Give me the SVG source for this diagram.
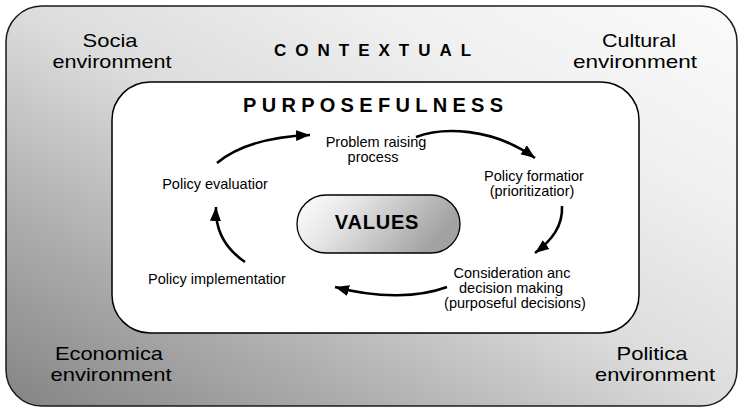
<svg xmlns="http://www.w3.org/2000/svg" width="739" height="409" viewBox="0 0 739 409">
<defs>
<linearGradient id="bg" x1="0" y1="1" x2="1" y2="0">
<stop offset="0" stop-color="#848484"/>
<stop offset="0.25" stop-color="#aeaeae"/>
<stop offset="0.5" stop-color="#dcdcdc"/>
<stop offset="0.75" stop-color="#f0f0f0"/>
<stop offset="1" stop-color="#fbfbfb"/>
</linearGradient>
<linearGradient id="pill" x1="0" y1="0" x2="1" y2="0.3">
<stop offset="0" stop-color="#ffffff"/>
<stop offset="0.35" stop-color="#e6e6e6"/>
<stop offset="1" stop-color="#a2a2a2"/>
</linearGradient>
<marker id="ah" markerUnits="userSpaceOnUse" markerWidth="15" markerHeight="12" refX="14" refY="6" orient="auto">
<path d="M0,0.5 L14,6 L0,11.5 z" fill="#000"/>
</marker>
<style>
.lbl{font-family:"Liberation Sans",Arial,sans-serif;font-size:19px;fill:#000;text-anchor:middle}
.in{font-family:"Liberation Sans",Arial,sans-serif;font-size:14.5px;fill:#000;text-anchor:middle}
.hd{font-family:"Liberation Sans",Arial,sans-serif;font-weight:bold;fill:#000}
.arr{fill:none;stroke:#000;stroke-width:2.6;marker-end:url(#ah)}
</style>
</defs>
<g id="contextual">
<rect x="6" y="6" width="731" height="400" rx="36" ry="36" fill="url(#bg)" stroke="#1a1a1a" stroke-width="1.5"/>
<text class="hd" x="274" y="56" font-size="17" letter-spacing="9">CONTEXTUAL</text>
<text class="lbl" x="110" y="47" textLength="55" lengthAdjust="spacingAndGlyphs">Socia</text>
<text class="lbl" x="112" y="68" textLength="119" lengthAdjust="spacingAndGlyphs">environment</text>
<text class="lbl" x="639" y="47" textLength="74" lengthAdjust="spacingAndGlyphs">Cultural</text>
<text class="lbl" x="635" y="68" textLength="124" lengthAdjust="spacingAndGlyphs">environment</text>
<text class="lbl" x="109" y="360" textLength="108" lengthAdjust="spacingAndGlyphs">Economica</text>
<text class="lbl" x="111" y="381" textLength="121" lengthAdjust="spacingAndGlyphs">environment</text>
<text class="lbl" x="652" y="360" textLength="71" lengthAdjust="spacingAndGlyphs">Politica</text>
<text class="lbl" x="655" y="381" textLength="120" lengthAdjust="spacingAndGlyphs">environment</text>
</g>
<g id="purposefulness">
<rect x="112" y="82" width="527" height="251" rx="38" ry="38" fill="#fff" stroke="#000" stroke-width="1.5"/>
<text class="hd" x="243" y="112" font-size="20" letter-spacing="5.3">PURPOSEFULNESS</text>
</g>
<g id="values">
<rect x="297" y="195" width="163" height="58" rx="29" ry="29" fill="url(#pill)" stroke="#000" stroke-width="1.3"/>
<text class="hd" x="377" y="229" font-size="20" text-anchor="middle" letter-spacing="0.8">VALUES</text>
</g>
<g id="problem-raising">
<text class="in" x="376" y="147">Problem raising</text>
<text class="in" x="373" y="162">process</text>
</g>
<g id="policy-formation">
<text class="in" x="534" y="181">Policy formatior</text>
<text class="in" x="532" y="196">(prioritizatior)</text>
</g>
<g id="consideration">
<text class="in" x="512" y="278">Consideration anc</text>
<text class="in" x="511" y="293">decision making</text>
<text class="in" x="515" y="308">(purposeful decisions)</text>
</g>
<g id="policy-implementation">
<text class="in" x="217" y="284">Policy implementatior</text>
</g>
<g id="policy-evaluation">
<text class="in" x="215" y="189">Policy evaluatior</text>
</g>
<g id="connectors">
<path class="arr" d="M217,163 C235,148 262,137 310,135"/>
<path class="arr" d="M416,137 C442,127 492,127 535,158"/>
<path class="arr" d="M562,206 C563,226 552,240 535,253"/>
<path class="arr" d="M447,287 C420,297 380,299 335,287"/>
<path class="arr" d="M245,262 C226,249 215,232 216,207"/>
</g>
</svg>
